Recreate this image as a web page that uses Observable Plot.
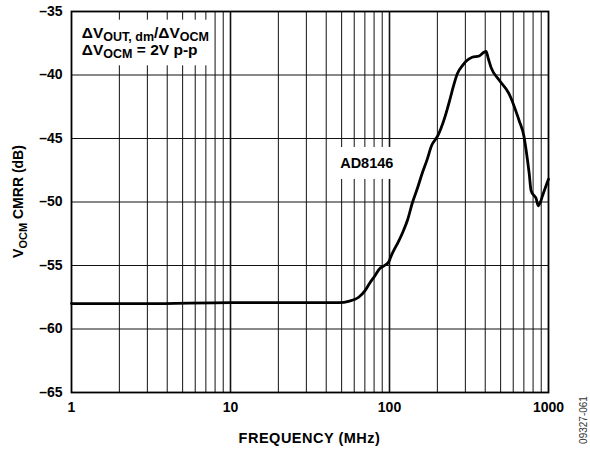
<!DOCTYPE html>
<html><head><meta charset="utf-8">
<script src="https://cdn.jsdelivr.net/npm/d3@7"></script>
<script src="https://cdn.jsdelivr.net/npm/@observablehq/plot@0.6"></script>
<style>
body{margin:0;background:#fff}
svg{font-family:"Liberation Sans",Arial,Helvetica,sans-serif}
</style>
</head><body><div id="chart"></div>
<script>
// Frequency (MHz) and VOCM CMRR (dB)
const freqMHz = [1, 3, 10, 30, 48, 56, 64, 70, 75, 81, 86, 93, 99, 102, 107, 113, 121, 130, 139, 150, 161, 172, 184, 201, 222, 239, 246, 267, 290, 304, 331, 366, 394, 405, 418, 435, 489, 566, 634, 654, 700, 723, 756, 777, 812, 835, 861, 890, 912, 960, 1000];
const cmrrDB  = [-58.0, -58.0, -57.92, -57.93, -57.93, -57.8, -57.5, -57.0, -56.4, -55.8, -55.3, -55.0, -54.7, -54.3, -53.75, -53.2, -52.4, -51.4, -50.1, -48.9, -47.7, -46.7, -45.55, -44.8, -43.4, -42.0, -41.4, -39.9, -39.2, -38.9, -38.6, -38.5, -38.2, -38.15, -38.7, -39.4, -40.4, -41.5, -43.1, -43.6, -44.8, -45.9, -47.75, -49.1, -49.5, -49.7, -50.3, -50.0, -49.6, -48.8, -48.2];
const xTickValues = [1, 10, 100, 1000];
const yTickValues = [-65, -60, -55, -50, -45, -40, -35];
const gridFreqs = [2,3,4,5,6,7,8,9,10,20,30,40,50,60,70,80,90,100,200,300,400,500,600,700,800,900];
const seriesLabel = "AD8146";
const xTitle = "FREQUENCY (MHz)";
const figureId = "09327-061";

const data = freqMHz.map((f, i) => ({f, db: cmrrDB[i]}));
const fmtY = d => d < 0 ? "\u2013" + Math.abs(d) : String(d);

const chart = Plot.plot({
  width: 590, height: 450,
  marginLeft: 71, marginRight: 42, marginTop: 11, marginBottom: 58,
  style: {fontFamily: "'Liberation Sans', Arial, sans-serif", fontSize: "14px", fontWeight: "bold", color: "#000", background: "#fff"},
  x: {type: "log", domain: [1, 1000]},
  y: {domain: [-65, -35]},
  marks: [
    Plot.ruleX(gridFreqs, {stroke: "#111", strokeWidth: d => (d === 10 || d === 100) ? 1.6 : 1, strokeOpacity: 1}),
    Plot.ruleY(yTickValues, {stroke: "#111", strokeWidth: 1}),
    Plot.axisX(xTickValues, {tickSize: 0, tickPadding: 10, tickFormat: d => String(d), label: null, fontSize: 14, fontWeight: "bold"}),
    Plot.axisY(yTickValues, {tickSize: 0, tickPadding: 9, tickFormat: fmtY, label: null, fontSize: 14, fontWeight: "bold"}),
    Plot.line(data, {x: "f", y: "db", stroke: "#000", strokeWidth: 2.8, curve: "monotone-x"}),
    Plot.frame({stroke: "#000", strokeWidth: 1.8})
  ]
});
document.getElementById("chart").appendChild(chart);

const svg = d3.select(chart);
const sx = chart.scale("x"), sy = chart.scale("y");

function richText(g, x, y, parts, size, subSize) {
  const t = g.append("text").attr("x", x).attr("y", y).attr("text-anchor", "start")
    .attr("font-size", size).attr("font-weight", "bold").attr("fill", "#000");
  parts.forEach(p => {
    const ts = t.append("tspan").text(p[0]);
    if (p[1] === "sub") ts.attr("font-size", subSize).attr("dy", 3.5);
    else if (p[1] === "up") ts.attr("dy", -3.5);
  });
  return t;
}

const annG = svg.append("g");
const bgLayer = annG.append("g");
const txLayer = annG.append("g");

const t1 = richText(txLayer, sx.apply(1.17), sy.apply(-37.1),
  [["\u0394V"], ["OUT, dm", "sub"], ["/\u0394V", "up"], ["OCM", "sub"]], 15.5, 12.5);
const t2 = richText(txLayer, sx.apply(1.17), sy.apply(-38.45),
  [["\u0394V"], ["OCM", "sub"], [" = 2V p-p", "up"]], 15.5, 12.5);
const t3 = richText(txLayer, sx.apply(49.3), sy.apply(-47.36), [[seriesLabel]], 14.5, 12);

function bg(nodes, pad, minX, minY) {
  let x0 = Infinity, y0 = Infinity, x1 = -Infinity, y1 = -Infinity;
  nodes.forEach(n => { const b = n.node().getBBox(); x0 = Math.min(x0, b.x); y0 = Math.min(y0, b.y); x1 = Math.max(x1, b.x + b.width); y1 = Math.max(y1, b.y + b.height); });
  x0 = Math.max(x0 - pad[0], minX ?? -Infinity); y0 = Math.max(y0 - pad[1], minY ?? -Infinity);
  bgLayer.append("rect").attr("x", x0).attr("y", y0).attr("width", x1 + pad[0] - x0).attr("height", y1 + pad[1] - y0).attr("fill", "#fff");
}
bg([t1, t2], [4, 4], sx.apply(1) + 1, sy.apply(-35) + 1);
bg([t3], [5, 8]);

const lineNode = svg.selectAll("g[aria-label='line']").node();
if (lineNode) lineNode.parentNode.insertBefore(annG.node(), lineNode);

const cx = (sx.apply(1) + sx.apply(1000)) / 2;
svg.append("text").attr("x", cx).attr("y", 443).attr("text-anchor", "middle")
  .attr("font-size", 14.5).attr("font-weight", "bold").attr("letter-spacing", "0.5px").text(xTitle);

const yl = svg.append("text").attr("transform", `translate(23,${(sy.apply(-35)+sy.apply(-65))/2}) rotate(-90)`)
  .attr("text-anchor", "middle").attr("font-size", 14).attr("font-weight", "bold");
yl.append("tspan").text("V");
yl.append("tspan").text("OCM").attr("font-size", 11).attr("dy", 4);
yl.append("tspan").text(" CMRR (dB)").attr("dy", -4);

svg.append("text").attr("transform", "translate(587,420) rotate(-90)")
  .attr("text-anchor", "middle").attr("font-size", 10).attr("font-weight", "normal").attr("fill", "#333").text(figureId);
</script>
</body></html>
